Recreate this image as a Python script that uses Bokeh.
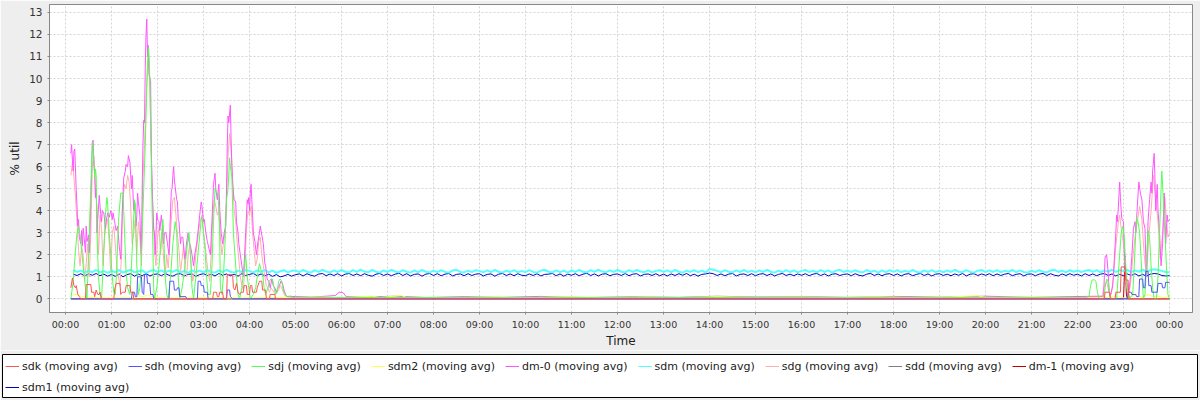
from bokeh.plotting import figure
from bokeh.models import Range1d, FixedTicker, Legend, LegendItem
from bokeh.layouts import column
from bokeh.embed import file_html
from bokeh.resources import INLINE

# ---------------- data (time in minutes after 00:00, value in % util) ----------------
series_names = ["sdk", "sdh", "sdj", "sdm2", "dm-0", "sdm", "sdg", "sdd", "dm-1", "sdm1"]
series_colors = ["#FF5555", "#5555FF", "#55FF55", "#FFFF55", "#FF55FF",
                 "#55FFFF", "#FFAFAF", "#808080", "#C00000", "#0000C0"]

tick_minutes = [0, 60, 120, 180, 240, 300, 360, 420, 480, 540, 600, 660, 720,
                780, 840, 900, 960, 1020, 1080, 1140, 1200, 1260, 1320, 1380, 1440]
tick_labels = ["00:00", "01:00", "02:00", "03:00", "04:00", "05:00", "06:00", "07:00",
               "08:00", "09:00", "10:00", "11:00", "12:00", "13:00", "14:00", "15:00",
               "16:00", "17:00", "18:00", "19:00", "20:00", "21:00", "22:00", "23:00", "00:00"]
y_ticks = [0, 1, 2, 3, 4, 5, 6, 7, 8, 9, 10, 11, 12, 13]

sdk = [(7,0.5),(9,0.95),(11,0.6),(13,0.5),(14,0.6),(16,0.2),(18,0.1),(20,0.0),(26,0.0),(27,0.65),
       (33,0.65),(34,0.3),(37,0.3),(38,0.1),(40,0.4),(42,0.2),(44,0.2),(45,0.3),(47,0.0),(63,0.0),
       (64,0.4),(66,0.7),(71,0.7),(72,0.2),(74,0.3),(78,0.3),(79,0.6),(84,0.6),(85,0.3),(88,0.3),
       (89,0.0),(192,0.0),(193,0.3),(197,0.3),(198,0.1),(200,0.1),(201,0.3),(205,0.3),(206,0.0),
       (210,0.0),(211,1.1),(218,1.1),(219,0.5),(221,0.4),(223,0.7),(225,0.3),(227,0.2),(229,0.3),
       (232,0.3),(233,0.6),(236,0.6),(237,0.2),(240,0.2),(241,0.6),(243,0.6),(244,0.3),(249,0.3),
       (250,0.5),(253,0.8),(256,0.8),(257,0.4),(261,0.4),(262,0.0),(266,0.0),(267,0.2),(273,0.2),
       (274,0.0),(1355,0.0),(1356,0.3),(1362,0.3),(1363,0.0),(1369,0.0),(1370,0.3),(1376,0.3),
       (1377,1.45),(1382,1.45),(1383,0.85),(1386,0.85),(1387,0.0),(1440,0.0)]

sdh = [(7,0.0),(86,0.0),(87,0.3),(90,0.3),(91,0.1),(93,0.1),(94,1.0),(99,1.0),(100,0.3),(102,0.2),
       (103,1.1),(106,1.1),(107,0.7),(110,0.7),(111,0.2),(114,0.2),(115,0.0),(135,0.0),(136,0.8),
       (141,0.8),(142,0.4),(145,0.4),(146,0.5),(148,0.5),(149,0.1),(157,0.1),(158,0.0),(172,0.0),
       (173,0.8),(176,0.8),(177,0.6),(180,0.6),(181,0.3),(185,0.3),(186,0.0),(210,0.0),(211,0.4),
       (214,0.4),(215,0.1),(218,0.0),(1385,0.0),(1386,0.3),(1390,0.3),(1391,0.2),(1396,0.2),
       (1397,0.1),(1400,0.1),(1401,0.9),(1405,0.9),(1406,0.5),(1408,0.5),(1409,1.25),(1412,1.25),
       (1413,0.6),(1416,0.6),(1417,0.3),(1424,0.3),(1425,0.7),(1430,0.7),(1431,0.5),(1434,0.5),
       (1435,0.75),(1440,0.75)]

sdj = [(7,0.0),(10,0.8),(13,2.2),(15,3.0),(17,3.3),(19,2.9),(21,2.2),(23,1.5),(26,0.5),(28,0.0),
       (30,2.0),(33,5.0),(35,7.1),(36,6.8),(38,5.5),(39,5.9),(40,5.6),(41,3.0),(43,1.0),(45,0.2),
       (47,0.0),(49,1.5),(52,3.8),(54,4.6),(55,4.3),(57,3.0),(59,2.0),(61,1.0),(63,0.3),(65,0.2),
       (67,1.5),(69,3.5),(72,4.8),(75,4.8),(77,3.0),(79,1.2),(81,0.5),(84,0.2),(86,1.5),(88,3.0),
       (90,4.5),(91,4.3),(93,1.5),(95,0.2),(97,0.5),(98,1.0),(100,3.0),(102,5.0),(104,7.0),
       (106,9.5),(108,11.4),(109,11.0),(110,10.0),(112,6.0),(113,4.0),(115,0.5),(116,0.0),
       (119,0.5),(122,1.5),(125,2.8),(127,3.6),(128,3.0),(130,1.0),(132,0.2),(134,0.0),(137,1.0),
       (140,2.5),(143,3.5),(145,3.0),(147,1.0),(149,0.0),(152,0.5),(156,1.5),(159,2.5),(161,3.0),
       (163,2.0),(165,0.5),(167,0.0),(170,1.0),(174,2.5),(177,3.6),(178,3.7),(180,3.0),(182,2.2),
       (184,1.0),(186,0.2),(189,0.2),(191,1.5),(193,3.5),(195,5.0),(197,4.8),(199,4.8),(201,3.0),
       (202,0.5),(204,0.2),(206,1.0),(208,2.5),(210,4.5),(212,5.0),(214,6.4),(215,6.0),(217,5.5),
       (219,3.0),(221,2.0),(223,1.0),(225,0.2),(227,0.0),(230,0.5),(233,1.5),(235,2.0),(237,1.0),
       (239,0.5),(241,0.0),(245,0.2),(248,0.5),(251,1.2),(253,1.6),(255,1.3),(257,1.2),(259,0.5),
       (261,0.2),(264,0.5),(266,0.8),(268,0.9),(270,0.9),(272,0.5),(274,0.2),(276,0.3),(278,0.8),
       (280,0.9),(282,0.8),(284,0.4),(286,0.2),(289,0.1),(300,0.05),(400,0.06),(600,0.05),
       (800,0.06),(1000,0.05),(1200,0.05),(1330,0.05),(1335,0.1),(1337,0.6),(1339,0.85),
       (1342,0.87),(1344,0.8),(1346,0.3),(1348,0.0),(1354,0.0),(1356,0.5),(1358,0.9),(1360,0.8),
       (1362,0.2),(1364,0.0),(1371,0.0),(1374,1.5),(1377,3.0),(1379,3.3),(1381,2.8),(1383,1.5),
       (1385,0.5),(1388,0.0),(1392,0.2),(1394,1.5),(1396,3.0),(1397,3.7),(1399,3.5),(1401,3.0),
       (1403,1.8),(1405,0.5),(1406,0.0),(1408,0.2),(1410,1.5),(1412,3.1),(1414,2.8),(1416,1.5),
       (1418,0.5),(1420,0.0),(1423,0.0),(1425,1.0),(1427,3.0),(1429,5.0),(1430,5.8),(1432,4.5),
       (1434,3.0),(1436,1.5),(1438,0.2),(1440,0.0)]

sdm2 = [(7,0.1),(9,0.15),(11,0.2),(17,0.2),(19,0.12),(25,0.08),(40,0.05),(60,0.04),(92,0.05),
        (95,0.15),(100,0.1),(106,0.15),(112,0.12),(118,0.05),(140,0.04),(180,0.05),(230,0.04),
        (270,0.06),(300,0.05),(330,0.08),(360,0.05),(400,0.12),(410,0.06),(438,0.15),(445,0.06),
        (500,0.05),(560,0.08),(600,0.05),(650,0.09),(700,0.06),(760,0.08),(800,0.05),(850,0.1),
        (900,0.06),(960,0.08),(1000,0.05),(1060,0.09),(1100,0.06),(1150,0.08),(1190,0.14),
        (1200,0.06),(1260,0.08),(1300,0.06),(1350,0.05),(1370,0.1),(1380,0.05),(1395,0.15),
        (1405,0.08),(1412,0.2),(1418,0.1),(1425,0.12),(1432,0.06),(1440,0.1)]

dm0 = [(7,6.6),(8,7.0),(9,6.3),(10,5.8),(11,6.7),(12,6.8),(13,5.9),(14,4.9),(15,4.2),(16,3.3),
       (17,3.6),(18,2.8),(20,2.5),(21,3.1),(22,2.4),(23,3.2),(24,2.9),(26,2.1),(27,3.3),(28,2.6),
       (30,2.9),(31,2.1),(33,4.5),(35,7.1),(36,7.2),(37,6.1),(38,5.8),(39,4.6),(40,5.0),(41,3.0),
       (42,3.6),(44,4.7),(45,4.2),(47,3.5),(48,4.0),(50,3.9),(52,3.2),(53,3.5),(55,3.9),(57,3.7),
       (59,4.0),(61,3.6),(62,3.9),(64,3.5),(66,3.1),(68,3.3),(70,2.4),(72,1.8),(74,4.0),(76,5.5),
       (78,5.8),(79,6.1),(81,6.0),(82,6.5),(84,6.2),(86,5.0),(87,5.6),(89,4.0),(90,4.4),(92,3.3),
       (93,3.8),(94,4.8),(95,4.4),(97,3.8),(98,2.6),(99,2.0),(100,5.0),(101,7.0),(102,8.1),
       (103,8.0),(104,10.5),(105,12.0),(106,12.7),(107,11.0),(108,11.5),(109,10.2),(110,10.0),
       (111,9.9),(112,6.5),(113,5.0),(114,4.1),(115,3.2),(116,3.0),(117,2.0),(118,2.9),(119,3.9),
       (120,3.6),(122,3.5),(123,3.1),(125,3.8),(126,3.4),(128,2.5),(129,3.0),(131,3.0),(133,2.5),
       (135,2.0),(137,4.0),(138,4.9),(139,5.0),(140,5.6),(141,6.0),(142,5.4),(143,5.1),(145,4.5),
       (146,4.4),(147,3.6),(148,3.5),(150,2.5),(151,2.8),(153,2.8),(155,2.0),(156,1.8),(158,2.6),
       (160,3.0),(161,2.6),(163,2.4),(165,2.0),(167,1.5),(169,2.1),(171,2.5),(173,3.1),(175,3.8),
       (177,4.4),(178,4.2),(180,3.5),(181,3.6),(183,3.0),(185,2.6),(187,2.3),(189,2.0),(191,3.5),
       (193,5.2),(195,5.7),(196,5.0),(198,4.5),(200,5.2),(201,4.2),(203,3.0),(205,2.5),(207,3.0),
       (209,3.3),(210,5.0),(211,7.0),(212,8.3),(213,8.0),(215,8.8),(216,7.2),(217,6.0),(218,5.2),
       (219,4.8),(220,4.5),(222,4.4),(223,3.5),(225,3.0),(226,2.5),(228,2.0),(230,1.5),(232,1.0),
       (233,1.6),(235,3.0),(237,4.5),(238,4.3),(239,4.6),(240,4.0),(241,4.8),(242,5.2),(243,4.5),
       (244,3.8),(245,3.0),(247,2.6),(249,2.0),(251,2.6),(253,3.0),(254,3.3),(256,2.9),(258,2.5),
       (260,1.6),(261,1.5),(263,0.9),(265,0.8),(267,0.5),(269,0.9),(271,0.6),(273,0.5),(275,0.3),
       (277,0.5),(279,0.6),(281,0.8),(283,0.7),(285,0.4),(287,0.2),(289,0.1),(292,0.12),
       (300,0.1),(320,0.08),(340,0.12),(352,0.15),(357,0.3),(362,0.28),(366,0.1),(390,0.08),
       (430,0.12),(470,0.06),(520,0.1),(570,0.07),(620,0.11),(680,0.06),(740,0.1),(800,0.07),
       (850,0.12),(900,0.08),(960,0.1),(1020,0.07),(1080,0.11),(1140,0.08),(1200,0.12),
       (1260,0.07),(1310,0.1),(1350,0.12),(1354,0.12),(1356,1.9),(1358,2.0),(1360,1.2),
       (1361,0.5),(1362,0.1),(1364,0.3),(1366,0.6),(1368,1.8),(1370,3.0),(1371,3.8),(1372,3.5),
       (1373,4.0),(1375,5.3),(1376,4.6),(1377,4.0),(1378,3.6),(1380,3.5),(1381,2.2),(1382,1.5),
       (1384,0.8),(1387,0.3),(1389,1.0),(1391,2.0),(1393,3.2),(1395,3.5),(1396,3.0),(1398,4.2),
       (1400,5.3),(1402,4.8),(1404,4.5),(1406,3.5),(1408,3.2),(1409,2.0),(1410,1.0),(1412,3.5),
       (1414,4.5),(1416,5.3),(1417,4.8),(1418,5.8),(1420,6.6),(1421,5.5),(1422,4.0),(1424,5.2),
       (1425,4.0),(1427,3.0),(1429,1.5),(1431,2.5),(1433,4.8),(1434,3.8),(1435,2.5),(1437,3.8),
       (1438,3.5),(1440,3.6)]

sdg = [(7,5.6),(9,6.2),(11,5.5),(13,4.6),(15,3.5),(17,2.2),(19,1.5),(21,2.4),(23,2.0),(25,0.8),
       (27,1.6),(29,2.5),(31,1.0),(33,3.0),(35,6.0),(37,6.5),(39,5.0),(41,4.2),(43,2.0),(45,3.8),
       (47,3.2),(49,1.5),(51,2.8),(53,3.4),(55,3.6),(57,2.5),(59,1.2),(61,3.0),(63,3.3),(65,2.4),
       (67,1.5),(69,1.0),(71,0.6),(73,2.0),(75,4.5),(77,5.2),(79,5.0),(81,5.6),(83,5.3),(85,4.2),
       (87,2.5),(89,3.0),(91,3.6),(93,2.0),(95,3.5),(97,2.8),(99,1.5),(101,5.5),(103,7.0),
       (105,9.0),(107,10.8),(108,11.0),(110,9.5),(112,6.5),(114,4.0),(116,2.2),(118,1.5),
       (120,2.8),(122,3.2),(124,2.0),(126,3.0),(128,1.8),(130,1.0),(132,2.0),(134,1.4),(136,2.5),
       (138,3.6),(140,4.5),(142,4.6),(144,3.8),(146,2.9),(148,2.2),(150,1.2),(152,1.8),(154,2.4),
       (156,1.3),(158,1.0),(160,2.0),(162,2.4),(164,1.5),(166,0.8),(168,1.2),(170,2.0),(172,2.6),
       (174,3.2),(176,3.6),(178,3.8),(180,3.0),(182,2.5),(184,1.8),(186,1.2),(188,0.8),(190,2.0),
       (192,3.8),(194,4.5),(196,4.2),(198,3.8),(200,4.0),(202,2.8),(204,2.0),(206,2.5),(208,3.0),
       (210,4.5),(212,6.5),(214,7.5),(216,6.8),(218,5.5),(220,4.0),(222,3.5),(224,2.5),(226,1.8),
       (228,1.0),(230,0.6),(232,0.4),(234,1.5),(236,3.2),(238,4.0),(240,3.8),(242,4.2),(244,3.0),
       (246,2.2),(248,1.5),(250,1.8),(252,2.6),(254,2.8),(256,2.0),(258,1.5),(260,1.0),(262,0.6),
       (264,0.5),(266,0.3),(268,0.5),(270,0.4),(272,0.3),(274,0.2),(276,0.3),(278,0.4),(280,0.6),
       (282,0.5),(284,0.3),(286,0.15),(290,0.08),(330,0.06),(420,0.08),(520,0.05),(640,0.07),
       (760,0.05),(880,0.08),(1000,0.06),(1120,0.07),(1240,0.05),(1340,0.07),(1352,0.1),
       (1355,0.6),(1358,0.8),(1361,0.3),(1364,0.2),(1367,1.0),(1370,2.4),(1373,3.4),(1375,3.8),
       (1377,3.2),(1380,2.5),(1383,0.8),(1386,0.2),(1389,0.6),(1392,1.8),(1395,2.8),(1398,3.5),
       (1401,4.2),(1404,3.6),(1407,2.0),(1410,1.0),(1413,2.8),(1416,4.0),(1419,5.6),(1422,4.5),
       (1425,3.5),(1428,1.8),(1431,3.0),(1434,4.6),(1436,3.6),(1438,2.8),(1440,3.0)]

sdd = [(7,0.0),(300,0.0),(720,0.0),(1100,0.0),(1440,0.0)]

dm1 = [(7,0.0),(1380,0.0),(1381,0.9),(1382,1.95),(1383,0.9),(1384,0.0),(1440,0.0)]

# sdm / sdm1 sampled every 5 minutes from 00:10 to 24:00 (one row per hour)
sdm_minutes = list(range(10, 1441, 5))
sdm_values = [
    1.30,1.22,1.28,1.19,1.27,1.21,1.31,1.20,1.26,1.18,
    1.27,1.21,1.30,1.19,1.26,1.32,1.20,1.25,1.29,1.18,1.26,1.31,
    1.21,1.29,1.19,1.28,1.22,1.31,1.20,1.27,1.18,1.29,1.21,1.28,
    1.20,1.30,1.22,1.19,1.29,1.21,1.32,1.23,1.19,1.28,1.22,1.30,
    1.27,1.19,1.29,1.22,1.31,1.20,1.28,1.18,1.25,1.30,1.20,1.27,
    1.29,1.21,1.31,1.23,1.19,1.30,1.22,1.32,1.24,1.20,1.29,1.22,
    1.31,1.23,1.20,1.30,1.22,1.33,1.24,1.21,1.31,1.23,1.19,1.29,
    1.22,1.32,1.24,1.20,1.30,1.23,1.19,1.29,1.21,1.31,1.23,1.20,
    1.28,1.21,1.30,1.22,1.19,1.29,1.32,1.22,1.20,1.28,1.21,1.30,
    1.27,1.20,1.29,1.21,1.31,1.23,1.19,1.28,1.22,1.30,1.20,1.27,
    1.21,1.30,1.22,1.19,1.28,1.32,1.23,1.20,1.29,1.21,1.28,1.19,
    1.29,1.22,1.31,1.23,1.20,1.30,1.22,1.33,1.24,1.21,1.29,1.22,
    1.32,1.23,1.20,1.30,1.22,1.31,1.24,1.21,1.29,1.20,1.27,1.30,
    1.22,1.29,1.21,1.31,1.23,1.19,1.28,1.22,1.30,1.21,1.28,1.20,
    1.36,1.32,1.27,1.21,1.30,1.23,1.20,1.29,1.22,1.31,1.21,1.28,
    1.20,1.29,1.22,1.32,1.23,1.19,1.28,1.21,1.30,1.22,1.29,1.20,
    1.27,1.31,1.21,1.28,1.20,1.30,1.22,1.29,1.19,1.28,1.32,1.22,
    1.29,1.21,1.30,1.23,1.20,1.31,1.22,1.28,1.19,1.29,1.21,1.30,
    1.22,1.30,1.20,1.28,1.21,1.31,1.23,1.19,1.29,1.22,1.30,1.21,
    1.28,1.20,1.29,1.22,1.32,1.23,1.21,1.30,1.22,1.19,1.28,1.31,
    1.21,1.29,1.22,1.30,1.20,1.28,1.23,1.31,1.21,1.29,1.22,1.19,
    1.28,1.21,1.30,1.23,1.20,1.29,1.32,1.22,1.28,1.20,1.30,1.23,
    1.29,1.21,1.28,1.31,1.22,1.30,1.20,1.29,1.23,1.32,1.22,1.30,
    1.28,1.31,1.21,1.29,1.23,1.32,1.24,1.30,1.34,1.31,1.27,1.22,
    1.20]
sdm1_values = [
    1.12,1.06,1.14,1.04,1.13,1.07,1.15,1.05,1.12,1.03,
    1.11,1.02,1.13,1.00,1.10,1.14,1.03,1.12,1.05,1.15,1.04,1.11,
    1.13,1.05,1.15,1.07,1.03,1.12,1.14,1.04,1.11,1.13,1.02,1.10,
    1.14,1.06,1.12,1.04,1.15,1.07,1.13,1.05,1.12,1.03,1.14,1.06,
    1.11,1.15,1.05,1.13,1.04,1.12,1.02,1.10,1.00,1.04,1.11,1.03,
    1.10,1.13,1.04,1.14,1.07,1.03,1.12,1.15,1.05,1.13,1.06,1.14,
    1.04,1.12,1.15,1.06,1.13,1.05,1.14,1.07,1.03,1.12,1.15,1.06,
    1.13,1.05,1.12,1.16,1.06,1.14,1.04,1.11,1.13,1.03,1.12,1.15,
    1.06,1.14,1.05,1.12,1.15,1.04,1.11,1.13,1.05,1.14,1.06,1.12,
    1.14,1.04,1.11,1.13,1.03,1.12,1.15,1.06,1.13,1.05,1.14,1.07,
    1.05,1.13,1.06,1.14,1.04,1.11,1.12,1.15,1.05,1.13,1.03,1.12,
    1.07,1.14,1.05,1.12,1.16,1.06,1.13,1.04,1.12,1.14,1.05,1.11,
    1.13,1.06,1.15,1.05,1.12,1.14,1.04,1.11,1.13,1.06,1.14,1.05,
    1.12,1.04,1.13,1.06,1.14,1.07,1.15,1.05,1.12,1.03,1.11,1.13,
    1.17,1.14,1.06,1.13,1.05,1.12,1.15,1.04,1.11,1.13,1.06,1.14,
    1.05,1.12,1.14,1.06,1.13,1.04,1.11,1.15,1.06,1.12,1.05,1.13,
    1.07,1.14,1.05,1.12,1.15,1.06,1.13,1.04,1.12,1.14,1.06,1.11,
    1.13,1.05,1.14,1.07,1.04,1.12,1.15,1.06,1.13,1.05,1.12,1.14,
    1.06,1.13,1.04,1.12,1.14,1.05,1.11,1.15,1.06,1.13,1.04,1.12,
    1.14,1.06,1.12,1.05,1.13,1.07,1.15,1.04,1.12,1.14,1.06,1.13,
    1.07,1.14,1.05,1.13,1.06,1.12,1.15,1.05,1.11,1.14,1.04,1.12,
    1.13,1.05,1.12,1.15,1.06,1.14,1.07,1.04,1.13,1.06,1.14,1.07,
    1.12,1.04,1.14,1.06,1.13,1.05,1.12,1.15,1.06,1.13,1.04,1.11,
    1.05,1.13,1.06,1.14,1.04,1.11,1.03,1.12,1.15,1.13,1.06,1.04,
    1.05]

assert len(sdm_minutes) == len(sdm_values) == len(sdm1_values)

series_data = {
    "sdk": sdk, "sdh": sdh, "sdj": sdj, "sdm2": sdm2, "dm-0": dm0,
    "sdm": list(zip(sdm_minutes, sdm_values)), "sdg": sdg, "sdd": sdd, "dm-1": dm1,
    "sdm1": list(zip(sdm_minutes, sdm1_values)),
}

FONT = "DejaVu Sans"

# ---------------- main plot ----------------
p = figure(width=1200, height=350, output_backend="svg", toolbar_location=None,
           x_range=Range1d(-20.9, 1470.0), y_range=Range1d(-0.62, 13.36),
           min_border_left=49, min_border_right=8, min_border_top=4, min_border_bottom=37)
p.frame_align = False
p.background_fill_color = "white"
p.border_fill_color = "#EEEEEE"
p.outline_line_color = "#888888"
p.outline_line_width = 1

renderers = {}
for name, color in reversed(list(zip(series_names, series_colors))):
    pts = series_data[name]
    xs = [a for a, b in pts]
    ys = [b for a, b in pts]
    lw = 2 if name == "sdm" else 1
    renderers[name] = p.line(xs, ys, line_color=color, line_width=lw)

p.xaxis.ticker = FixedTicker(ticks=tick_minutes)
p.xaxis.major_label_overrides = {t: lab for t, lab in zip(tick_minutes, tick_labels)}
p.yaxis.ticker = FixedTicker(ticks=y_ticks)
p.xaxis.axis_label = "Time"
p.yaxis.axis_label = "% util"

for ax in (p.xaxis[0], p.yaxis[0]):
    ax.axis_line_color = "#888888"
    ax.major_tick_line_color = "#888888"
    ax.major_tick_out = 2
    ax.major_tick_in = 0
    ax.minor_tick_line_color = None
    ax.major_label_text_font = FONT
    ax.major_label_text_color = "#333333"
    ax.axis_label_text_font = FONT
    ax.axis_label_text_font_style = "normal"
    ax.axis_label_text_font_size = "12px"
    ax.axis_label_text_color = "#222222"
p.xaxis.major_label_text_font_size = "9.5px"
p.yaxis.major_label_text_font_size = "10.5px"
p.xaxis.major_label_standoff = 4
p.yaxis.major_label_standoff = 5
p.xaxis.axis_label_standoff = 1
p.yaxis.axis_label_standoff = 4

p.grid.grid_line_color = "#D4D4D4"
p.grid.grid_line_dash = "2 2"
p.grid.grid_line_width = 1

# ---------------- legend box ----------------
leg = figure(width=1200, height=50, output_backend="svg", toolbar_location=None,
             x_range=Range1d(0, 1), y_range=Range1d(0, 1),
             x_axis_location=None, y_axis_location=None,
             min_border_left=2, min_border_right=3, min_border_top=4, min_border_bottom=3)
leg.frame_align = False
leg.grid.visible = False
leg.background_fill_color = "white"
leg.border_fill_color = "#EEEEEE"
leg.outline_line_color = "black"
leg.outline_line_width = 1

items = []
for name, color in zip(series_names, series_colors):
    r = leg.line([-10, -9], [-10, -10], line_color=color, line_width=1)
    items.append(LegendItem(label=name + " (moving avg)", renderers=[r]))

def make_legend(its, loc):
    lg = Legend(items=its, orientation="horizontal", location=loc,
                border_line_color=None, background_fill_alpha=0,
                label_text_font=FONT, label_text_font_size="11px", label_text_color="#222222",
                glyph_width=14, glyph_height=16, label_height=16, label_standoff=3,
                spacing=10, padding=0, margin=0)
    return lg

leg.add_layout(make_legend(items[:9], (3, 23)))
leg.add_layout(make_legend(items[9:], (3, 2)))

layout = column(p, leg, spacing=0)
open("out.html", "w").write(file_html(layout, INLINE))
